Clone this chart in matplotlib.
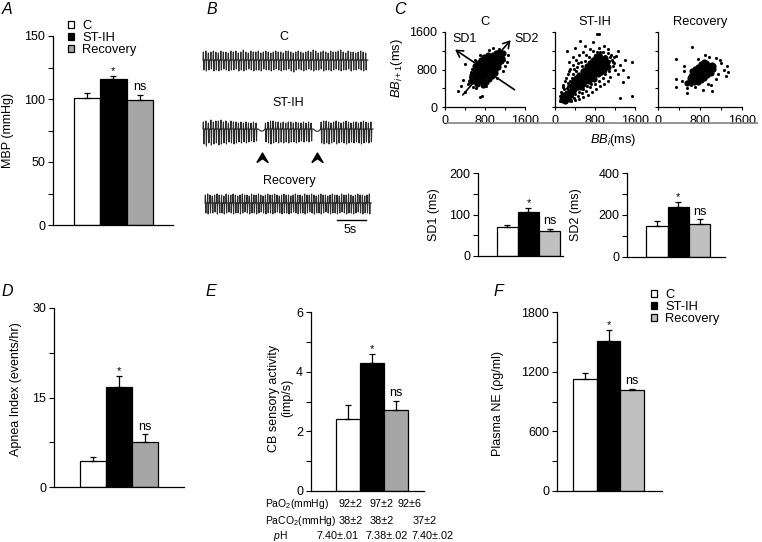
import numpy as np
import matplotlib.pyplot as plt
from matplotlib.lines import Line2D

plt.rcParams['font.family'] = ['Liberation Sans', 'DejaVu Sans']
plt.rcParams['mathtext.fontset'] = 'custom'
plt.rcParams['mathtext.rm'] = 'Liberation Sans'
plt.rcParams['mathtext.it'] = 'Liberation Sans:italic'
plt.rcParams['font.size'] = 9

# ---------------- data ----------------
groups = ['C', 'ST-IH', 'Recovery']

mbp = [100.5, 116, 99.2]
mbp_err = [4, 2.5, 4.2]
sd1 = [70, 107, 61]
sd1_err = [5, 9, 5]
sd2 = [148, 239, 158]
sd2_err = [22, 21, 22]
apnea = [4.4, 16.7, 7.5]
apnea_err = [0.7, 1.9, 1.4]
cb = [2.40, 4.30, 2.70]
cb_err = [0.49, 0.30, 0.33]
ne = [1124, 1510, 1013]
ne_err = [64, 112, 16]

blood_rows = ['PaO$_2$(mmHg)', 'PaCO$_2$(mmHg)', '$p$H']
pao2 = ['92±2', '97±2', '92±6']
paco2 = ['38±2', '38±2', '37±2']
ph = ['7.40±.01', '7.38±.02', '7.40±.02']

# breathing traces: spike heights (up / down) for each breath
c_up = [8, 9, 7, 8, 9, 8, 7, 9, 8, 8, 7, 9, 8, 9, 7, 8, 10, 8, 7, 9, 8, 8, 9, 7, 8, 9, 8, 7, 8, 9, 8, 8, 7,
        9, 9, 8, 7, 8, 9, 8, 7, 8, 9, 8, 10, 9, 7, 8, 9, 8, 7, 9, 8, 8, 9, 10, 8, 7, 9, 8, 8, 7, 8, 9, 8, 7]
c_down = [10, 11, 10, 9, 11, 10, 11, 10, 9, 10, 11, 10, 10, 9, 11, 10, 11, 10, 9, 10, 11, 10, 10, 11, 9, 10,
          10, 11, 10, 9, 10, 11, 10, 10, 9, 11, 12, 10, 9, 10, 11, 10, 9, 10, 11, 10, 10, 9, 11, 10, 10, 11,
          10, 9, 10, 11, 10, 10, 9, 11, 10, 10, 9, 10, 11, 10]
st_up = [[7, 8, 6, 9, 7, 8, 8, 9, 7, 8, 6, 8, 7, 7, 6, 7, 6, 7, 6, 6, 7, 6],
         [6, 7, 8, 8, 7, 7, 6, 7, 6, 7, 7, 6, 7, 6, 6, 7, 6, 7, 6],
         [7, 8, 8, 7, 6, 7, 8, 7, 6, 7, 8, 7, 6, 7, 7, 6, 7, 8, 7, 6, 7]]
st_down = [[15, 17, 14, 16, 15, 14, 16, 15, 14, 15, 13, 14, 15, 14, 13, 14, 13, 14, 13, 12, 13, 12],
           [13, 14, 15, 14, 13, 14, 13, 14, 13, 14, 13, 13, 14, 13, 12, 13, 12, 13, 12],
           [14, 15, 14, 15, 14, 13, 15, 14, 13, 14, 15, 14, 13, 14, 13, 14, 15, 14, 13, 14, 13]]
st_segments = [(0.0, 9.5), (10.7, 19.0), (20.3, 29.3)]
st_pause_dip = [2.0, 2.2]
st_arrows = [10.2, 19.7]
rec_up = [8, 9, 8, 7, 8, 9, 8, 8, 7, 9, 8, 8, 9, 8, 7, 8, 9, 8, 8, 7, 9, 8, 8, 9, 8, 7, 8, 9, 8, 8, 9, 8,
          7, 8, 9, 8, 8, 7, 8, 9, 8, 8, 7, 9, 8, 8, 9, 8, 7, 8, 9, 8, 8, 7, 8, 9, 8, 8, 7, 9, 8, 8, 9, 8,
          7, 8, 9, 8, 8, 7, 8, 9]
rec_down = [10, 11, 10, 10, 9, 11, 10, 10, 11, 10, 9, 10, 11, 10, 10, 11, 10, 9, 10, 11, 10, 10, 11, 10, 9,
            10, 11, 10, 10, 11, 10, 9, 10, 11, 10, 10, 11, 10, 9, 10, 11, 10, 10, 11, 10, 9, 10, 11, 10, 10,
            11, 10, 9, 10, 11, 10, 10, 11, 10, 9, 10, 11, 10, 10, 11, 10, 9, 10, 11, 10, 10, 11]

# Poincare plots (BB_i, BB_i+1) in ms
c_core = [(560, 560), (620, 610), (680, 680), (740, 730), (800, 800), (860, 850), (920, 920), (980, 970),
          (1040, 1040), (1100, 1090), (1150, 1160), (540, 680), (600, 740), (660, 800), (720, 860),
          (780, 920), (840, 980), (900, 1040), (960, 1100), (1020, 1160), (640, 500), (700, 560),
          (760, 620), (820, 680), (880, 740), (940, 800), (1000, 860), (1060, 920), (1120, 980),
          (600, 880), (660, 940), (720, 1000), (780, 1060), (850, 1120), (760, 480), (820, 540),
          (880, 600), (940, 660), (1000, 720), (590, 650), (650, 710), (710, 640), (770, 700), (830, 760),
          (890, 820), (950, 880), (1010, 940), (1070, 1000), (700, 800), (760, 860), (820, 920),
          (880, 980), (940, 1040), (1000, 1100), (650, 560), (710, 600), (780, 760), (840, 900),
          (900, 860), (960, 1010), (1020, 980), (1080, 1060), (620, 760), (680, 900), (740, 950),
          (870, 1060), (930, 720), (990, 790), (1050, 850), (1080, 1180), (1130, 1040), (520, 560)]
c_out = [(390, 920), (318, 448), (391, 320), (700, 220), (745, 230), (480, 560), (500, 640), (560, 430),
         (620, 400), (1040, 620), (1180, 1000), (1200, 880), (1080, 1230), (960, 1260), (880, 1220),
         (700, 1100), (600, 1000), (350, 580), (250, 350), (1250, 1100), (540, 820), (1150, 760),
         (820, 440), (450, 500), (520, 740), (1230, 960)]
st_core = [(700, 700), (760, 760), (820, 820), (880, 880), (940, 940), (1000, 980), (740, 860), (800, 920),
           (860, 980), (920, 1020), (680, 800), (780, 700), (840, 760), (900, 800), (960, 860),
           (1020, 900), (720, 620), (660, 660), (600, 720), (640, 880), (700, 940), (760, 1000),
           (820, 1060), (880, 1100), (860, 700), (920, 740), (980, 780), (1050, 850), (780, 600),
           (580, 580), (520, 620), (560, 760), (620, 560), (500, 500), (440, 540), (460, 420), (400, 460),
           (380, 380), (520, 420), (340, 420), (300, 340), (420, 620), (360, 520), (480, 680), (150, 150),
           (180, 200), (220, 170), (200, 250), (260, 220), (160, 260), (240, 300), (300, 260), (280, 180),
           (130, 180), (200, 130), (640, 780), (700, 860), (560, 660), (620, 640), (760, 680), (820, 900),
           (540, 540), (600, 640), (660, 600), (720, 760), (780, 820), (840, 880), (900, 940), (960, 1000),
           (800, 760), (860, 820), (920, 880), (980, 920), (740, 700), (680, 740), (600, 800), (680, 560),
           (420, 420), (480, 460), (440, 600), (380, 560), (320, 300), (260, 280), (350, 350), (400, 520),
           (500, 580), (460, 640), (560, 500), (1040, 960), (1000, 1040), (740, 940), (660, 820), (900, 1060)]
st_out = [(833, 1565), (887, 1560), (500, 1400), (233, 1190), (400, 1260), (700, 1245), (1533, 960),
          (1467, 640), (1367, 526), (1300, 185), (1533, 235), (1220, 1088), (1167, 960), (250, 700),
          (300, 820), (200, 560), (350, 900), (150, 420), (420, 1000), (480, 1100), (560, 1180),
          (620, 1120), (760, 1200), (880, 1250), (950, 1180), (1050, 1150), (1100, 1060), (1150, 880),
          (1200, 800), (1250, 700), (1100, 640), (1050, 560), (980, 500), (900, 440), (820, 380),
          (740, 320), (650, 260), (560, 220), (480, 180), (400, 150), (320, 120), (120, 320), (100, 240),
          (250, 450), (330, 620), (180, 380), (420, 760), (540, 880), (600, 980), (680, 1060), (720, 500),
          (640, 440), (560, 380), (480, 320), (400, 280), (340, 240), (260, 520), (300, 480), (360, 700),
          (440, 860), (520, 960), (800, 1120), (900, 1180), (1000, 1080), (1080, 980), (1140, 1000),
          (1180, 940), (1000, 700), (1080, 760), (950, 620), (880, 560), (800, 500), (700, 420),
          (620, 340), (540, 300), (460, 240), (380, 200), (130, 130), (170, 110), (210, 100), (110, 160),
          (90, 120), (350, 1060), (280, 960), (1300, 900), (1400, 1000), (1250, 1200), (1350, 780),
          (600, 1300), (760, 1380), (980, 1300), (220, 620), (280, 760), (160, 480), (380, 820),
          (460, 940), (300, 560), (240, 400), (1120, 1120), (1180, 1060), (1060, 1240), (840, 1180)]
rec_core = [(600, 560), (660, 600), (720, 660), (780, 700), (840, 740), (900, 800), (960, 840),
            (1020, 900), (560, 520), (620, 660), (680, 720), (740, 780), (800, 840), (860, 880),
            (920, 940), (680, 540), (740, 600), (800, 640), (860, 680), (920, 720), (980, 780),
            (1040, 820), (640, 760), (700, 820), (760, 860), (820, 920), (880, 960), (760, 540),
            (820, 580), (880, 620), (940, 680), (1000, 720), (700, 680), (760, 720), (820, 760),
            (880, 800), (940, 760), (780, 800), (720, 740), (840, 680), (900, 720), (960, 900),
            (600, 620), (650, 680), (1050, 880)]
rec_out = [(340, 1030), (640, 1280), (340, 590), (345, 420), (550, 300), (850, 370), (1030, 350),
           (1310, 870), (1330, 740), (1290, 660), (1180, 1000), (1200, 940), (900, 1100), (980, 1060),
           (500, 760), (450, 560), (1100, 600), (1150, 700), (700, 420), (620, 460), (960, 500),
           (1250, 800), (500, 880), (760, 1020), (1100, 1050), (560, 400), (1000, 460)]

# ---------------- layout helpers (pixel based) ----------------
W, H = 762, 542
fig = plt.figure(figsize=(W / 100, H / 100), dpi=100)


def box(left, top, right, bottom):
    return [left / W, 1 - bottom / H, (right - left) / W, (bottom - top) / H]


def ftext(x, y, s, **kw):
    kw.setdefault('ha', 'center')
    kw.setdefault('va', 'center')
    fig.text(x / W, 1 - y / H, s, **kw)


def bar_panel(rect, vals, errs, ymax, major, minor, xlim, rec_color):
    ax = fig.add_axes(rect)
    x = np.arange(3)
    bars = ax.bar(x, vals, width=1, color=['white', 'black', rec_color],
                  edgecolor='black', linewidth=0.9, label=groups)
    ax.errorbar(x, vals, yerr=[np.zeros(3), errs], fmt='none', ecolor='black',
                elinewidth=0.9, capsize=2.5, capthick=0.9)
    ax.set_xlim(*xlim)
    ax.set_ylim(0, ymax)
    ax.spines[['top', 'right']].set_visible(False)
    ax.spines[['left', 'bottom']].set_linewidth(0.9)
    ax.set_xticks([])
    ax.set_yticks(major)
    ax.set_yticks(minor, minor=True)
    ax.tick_params(axis='y', which='both', direction='out', length=3.5, width=0.8, pad=2, labelsize=9)
    ax.annotate('*', (1, vals[1] + errs[1]), xytext=(0, 0), textcoords='offset points',
                ha='center', va='bottom', fontsize=8)
    ax.annotate('ns', (2, vals[2] + errs[2]), xytext=(0, 1), textcoords='offset points',
                ha='center', va='bottom', fontsize=9)
    return ax, bars


# ---------------- A ----------------
axA, barsA = bar_panel(box(53, 36, 173, 225), mbp, mbp_err, 150, [0, 50, 100, 150], [25, 75, 125],
                       (-1.28, 3.25), '#a6a6a6')
ftext(8, 130, 'MBP (mmHg)', rotation=90)
fig.legend(barsA.patches, groups, loc='upper left', bbox_to_anchor=(68 / W, 1 - 20 / H),
           frameon=False, borderpad=0, borderaxespad=0, handlelength=0.5, handleheight=0.5,
           handletextpad=0.6, labelspacing=0.0, fontsize=9.3)

# ---------------- B: breathing traces ----------------
axB = fig.add_axes(box(195, 25, 380, 240))
axB.set_xlim(-1.38, 30.5)   # seconds
axB.set_ylim(240, 25)
axB.axis('off')


def trace(t0, t1, ups, downs):
    n = len(ups)
    p = (t1 - t0) / n
    xs, ys = [], []
    for i in range(n):
        s = t0 + i * p
        xs += [s, s + 0.15 * p, s + 0.35 * p, s + 0.5 * p]
        ys += [0, -ups[i], downs[i], 0]
    xs.append(t1)
    ys.append(0)
    return xs, ys


tc = dict(color='#2a2a2a', lw=0.8)
xs, ys = trace(0, 28.4, c_up, c_down)
axB.plot(xs, np.array(ys) + 60, **tc)

xs_all, ys_all = [], []
for k, (t0, t1) in enumerate(st_segments):
    xs, ys = trace(t0, t1, st_up[k], st_down[k])
    xs_all += xs
    ys_all += ys
    if k < len(st_pause_dip):
        nxt = st_segments[k + 1][0]
        xs_all += [t1 + 0.35 * (nxt - t1), t1 + 0.7 * (nxt - t1)]
        ys_all += [st_pause_dip[k], st_pause_dip[k]]
axB.plot(xs_all, np.array(ys_all) + 129, **tc)

xs, ys = trace(0.35, 29.0, rec_up, rec_down)
axB.plot(xs, np.array(ys) + 203, **tc)

chev = [(-1, -0.9), (0, 0.8), (1, -0.9), (0, -0.2), (-1, -0.9)]
axB.plot(st_arrows, [157] * len(st_arrows), ls='none', marker=chev, ms=8, color='black')

axB.plot([23.1, 23.1 + 5], [220, 220], color='black', lw=1)
axB.text(25.4, 230, '5s', ha='center', va='center', fontsize=9)
axB.text(14.0, 37, 'C', ha='center', va='center', fontsize=9)
axB.text(14.6, 103, 'ST-IH', ha='center', va='center', fontsize=9)
axB.text(14.9, 181, 'Recovery', ha='center', va='center', fontsize=9)

# ---------------- C: Poincare plots ----------------
sc_rects = [box(445, 32, 525, 107), box(555, 32, 635, 107), box(658, 32, 742, 107)]
sc_data = [(c_core, c_out), (st_core, st_out), (rec_core, rec_out)]
titles = ['C', 'ST-IH', 'Recovery']
for k, rect in enumerate(sc_rects):
    ax = fig.add_axes(rect)
    core, out = sc_data[k]
    ax.scatter(*zip(*out), s=5, color='black', linewidths=0)
    ax.scatter(*zip(*core), s=20, color='black', linewidths=0)
    ax.set_xlim(0, 1600)
    ax.set_ylim(0, 1600)
    ax.spines[['top', 'right']].set_visible(False)
    ax.spines[['left', 'bottom']].set_linewidth(0.9)
    ax.set_xticks([0, 800, 1600])
    ax.set_xticks([400, 1200], minor=True)
    ax.set_yticks([0, 800, 1600])
    ax.set_yticks([400, 1200], minor=True)
    ax.tick_params(which='both', direction='out', length=2.5, width=0.8, pad=3, labelsize=9)
    if k > 0:
        ax.set_yticklabels([])
    ax.set_title(titles[k], fontsize=9.3, pad=5)
    if k == 0:
        ax.annotate('', xy=(1350, 1470), xytext=(318, 213),
                    arrowprops=dict(arrowstyle='->,head_length=0.5,head_width=0.3', lw=1.2, color='black'))
        ax.annotate('', xy=(156, 1258), xytext=(1437, 335),
                    arrowprops=dict(arrowstyle='->,head_length=0.5,head_width=0.3', lw=1.2, color='black'))
        ax.text(400, 1460, 'SD1', ha='center', va='center', fontsize=9)
        ax.text(1640, 1460, 'SD2', ha='center', va='center', fontsize=9, clip_on=False)

fig.add_artist(Line2D([448 / W, 757 / W], [1 - 123 / H, 1 - 123 / H], color='#8c8c8c', lw=1.3))
ftext(613, 140, '$BB_i$(ms)', fontsize=9.3)
ftext(397, 68, '$BB_{i+1}$(ms)', rotation=90, fontsize=9.3)

# SD1 / SD2 bars
bar_panel(box(478, 173, 563, 256), sd1, sd1_err, 200, [0, 100, 200], [50, 150], (-1.40, 2.64), '#c0c0c0')
ftext(434, 215, 'SD1 (ms)', rotation=90)
bar_panel(box(627, 173, 725, 256.7), sd2, sd2_err, 400, [0, 200, 400], [100, 300], (-1.41, 3.19), '#c0c0c0')
ftext(576, 215, 'SD2 (ms)', rotation=90)

# ---------------- D ----------------
bar_panel(box(54, 308, 184, 487), apnea, apnea_err, 30, [0, 15, 30], [7.5, 22.5], (-1.5, 3.5), '#a6a6a6')
ftext(16, 389, 'Apnea Index (events/hr)', rotation=90)

# ---------------- E ----------------
bar_panel(box(310.7, 312.3, 424, 490.7), cb, cb_err, 6, [0, 2, 4, 6], [1, 3, 5], (-1.55, 3.17), '#a6a6a6')
ftext(281, 398, 'CB sensory activity\n(imp/s)', rotation=90, linespacing=1.15)

row_y = [504, 521, 536]
row_x = [265, 265, 273]
cols = [[350.5, 381.5, 409.5], [350.5, 381.5, 425], [337.5, 386.5, 432.5]]
for r, vals in enumerate([pao2, paco2, ph]):
    ftext(row_x[r], row_y[r], blood_rows[r], ha='left', fontsize=7.5)
    for j, v in enumerate(vals):
        ftext(cols[r][j], row_y[r], v, fontsize=7.8)

# ---------------- F ----------------
axF, barsF = bar_panel(box(556.7, 312.3, 661.7, 490.7), ne, ne_err, 1800, [0, 600, 1200, 1800],
                       [300, 900, 1500], (-1.19, 3.24), '#c0c0c0')
ftext(498, 404, 'Plasma NE (ρg/ml)', rotation=90)
fig.legend(barsF.patches, groups, loc='upper left', bbox_to_anchor=(651 / W, 1 - 289 / H),
           frameon=False, borderpad=0, borderaxespad=0, handlelength=0.5, handleheight=0.5,
           handletextpad=0.6, labelspacing=0.0, fontsize=9.3)

# panel letters
for letter, (x, y) in zip('ABCDEF', [(7, 10), (212, 10), (400, 10), (7, 291), (211, 291), (498, 292)]):
    ftext(x, y, letter, fontsize=11.5, style='italic')

fig.savefig('out.png', dpi=100)
